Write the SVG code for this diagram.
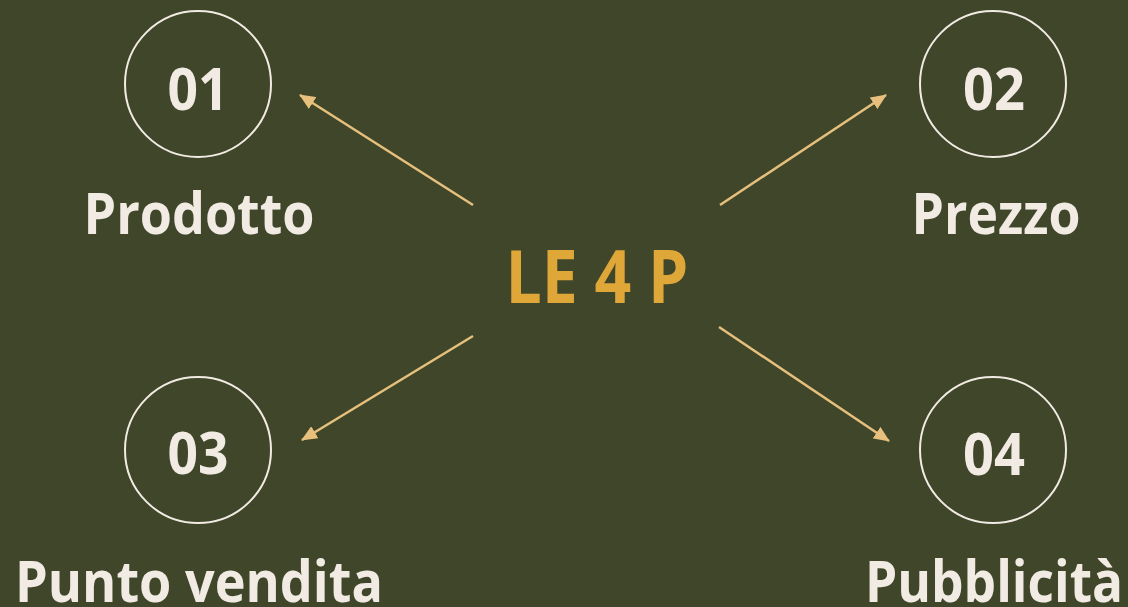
<svg xmlns="http://www.w3.org/2000/svg" width="1128" height="607" viewBox="0 0 1128 607">
  <style>
    .ring { fill: none; stroke: #F1EBE3; stroke-width: 2; }
    .num { font-family: "Open Sans", "Liberation Sans", sans-serif; font-weight: 700; font-size: 59px; fill: #F1EBE3; text-anchor: middle; }
    .label { font-family: "Open Sans", "Liberation Sans", sans-serif; font-weight: 700; font-size: 57px; fill: #F1EBE3; text-anchor: middle; }
    .title { font-family: "Open Sans", "Liberation Sans", sans-serif; font-weight: 700; font-size: 73px; fill: #DFA638; text-anchor: middle; }
    .link { stroke: #E6C07C; stroke-width: 2.5; fill: none; marker-end: url(#head); }
  </style>
  <defs>
    <marker id="head" markerUnits="userSpaceOnUse" markerWidth="16" markerHeight="14" refX="15" refY="7" orient="auto">
      <path d="M0,0 L16,7 L0,14 z" fill="#E6C07C"/>
    </marker>
  </defs>

  <rect width="1128" height="607" fill="#3F4629"/>

  <g id="center">
    <text class="title" x="597" y="303" textLength="183" lengthAdjust="spacingAndGlyphs">LE 4 P</text>
  </g>

  <g id="connectors">
    <line class="link" x1="473" y1="205" x2="300" y2="95"/>
    <line class="link" x1="720" y1="205" x2="886" y2="95"/>
    <line class="link" x1="473" y1="336" x2="302" y2="440"/>
    <line class="link" x1="719" y1="327" x2="889" y2="441"/>
  </g>

  <g id="node-01">
    <circle class="ring" cx="198" cy="84" r="73"/>
    <text class="num" x="198" y="110" textLength="61" lengthAdjust="spacingAndGlyphs">01</text>
    <text class="label" x="199" y="234" textLength="231" lengthAdjust="spacingAndGlyphs">Prodotto</text>
  </g>

  <g id="node-02">
    <circle class="ring" cx="993" cy="84" r="73"/>
    <text class="num" x="994" y="110" textLength="62" lengthAdjust="spacingAndGlyphs">02</text>
    <text class="label" x="996" y="234" textLength="169" lengthAdjust="spacingAndGlyphs">Prezzo</text>
  </g>

  <g id="node-03">
    <circle class="ring" cx="198" cy="450" r="73"/>
    <text class="num" x="198" y="474" textLength="61" lengthAdjust="spacingAndGlyphs">03</text>
    <text class="label" x="199" y="602" textLength="368" lengthAdjust="spacingAndGlyphs">Punto vendita</text>
  </g>

  <g id="node-04">
    <circle class="ring" cx="993" cy="450" r="73"/>
    <text class="num" x="994" y="475" textLength="62" lengthAdjust="spacingAndGlyphs">04</text>
    <text class="label" x="994" y="602" textLength="258" lengthAdjust="spacingAndGlyphs">Pubblicità</text>
  </g>
</svg>
